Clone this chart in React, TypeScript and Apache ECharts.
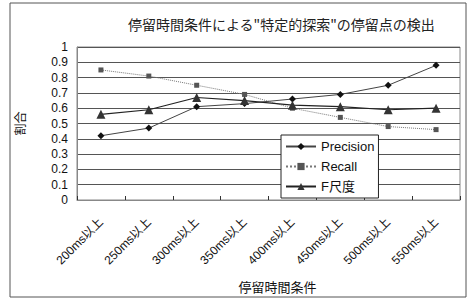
import React, { useEffect, useRef } from "react";
import * as echarts from "echarts";

const categories = ["200ms以上", "250ms以上", "300ms以上", "350ms以上", "400ms以上", "450ms以上", "500ms以上", "550ms以上"];
const precision = [0.42, 0.47, 0.61, 0.63, 0.66, 0.69, 0.75, 0.88];
const recall = [0.85, 0.81, 0.75, 0.69, 0.6, 0.54, 0.48, 0.46];
const fMeasure = [0.56, 0.59, 0.67, 0.65, 0.62, 0.61, 0.59, 0.6];
const seriesNames = ["Precision", "Recall", "F尺度"];

const FONT = "'Liberation Sans', 'Noto Sans CJK JP', sans-serif";

export default function App() {
  const ref = useRef<HTMLDivElement>(null);
  useEffect(() => {
    const chart = echarts.init(ref.current!, null, { renderer: "svg" });
    chart.setOption({
      animation: false,
      backgroundColor: "#fff",
      textStyle: { fontFamily: FONT },
      title: {
        text: '停留時間条件による"特定的探索"の停留点の検出',
        left: 123,
        top: 12,
        textStyle: { fontSize: 14, fontWeight: "normal", color: "#222", fontFamily: "'Noto Sans CJK JP', sans-serif" },
      },
      graphic: [
        {
          type: "rect",
          shape: { x: 10, y: 3, width: 456, height: 294 },
          style: { fill: "none", stroke: "#555", lineWidth: 1 },
          z: 0,
        },
      ],
      legend: {
        orient: "vertical",
        left: 281,
        top: 135,
        data: seriesNames,
        backgroundColor: "#fff",
        borderColor: "#222",
        borderWidth: 1,
        borderRadius: 0,
        padding: [5, 4, 5, 4],
        itemGap: 7,
        itemWidth: 30,
        itemHeight: 9,
        textStyle: { fontSize: 13, color: "#111", fontFamily: FONT },
      },
      grid: { left: 77, top: 47, right: 10, bottom: 106, show: true, borderColor: "#888", borderWidth: 1 },
      xAxis: {
        type: "category",
        data: categories,
        boundaryGap: true,
        name: "停留時間条件",
        nameLocation: "middle",
        nameGap: 80,
        nameTextStyle: { fontSize: 13, color: "#111", padding: [0, 0, 0, 18], fontFamily: "'Noto Sans CJK JP', sans-serif" },
        axisLine: { lineStyle: { color: "#888" } },
        axisTick: { show: true, inside: true, length: 4, lineStyle: { color: "#333" } },
        axisLabel: { rotate: 45, fontSize: 12, color: "#111", margin: 20, interval: 0 },
      },
      yAxis: {
        type: "value",
        min: 0,
        max: 1,
        interval: 0.1,
        name: "割合",
        nameLocation: "middle",
        nameGap: 52,
        nameTextStyle: { fontSize: 12, color: "#111", fontFamily: "'Noto Sans CJK JP', sans-serif" },
        axisLine: { show: true, lineStyle: { color: "#888" } },
        axisTick: { show: false },
        axisLabel: { fontSize: 12, color: "#111", margin: 9, formatter: (v: number) => String(Math.round(v * 10) / 10) },
        splitLine: { show: true, lineStyle: { color: "#555", width: 1 } },
      },
      series: [
        {
          name: seriesNames[0],
          type: "line",
          data: precision,
          symbol: "diamond",
          symbolSize: 7,
          itemStyle: { color: "#111" },
          lineStyle: { color: "#444", width: 1 },
          z: 3,
        },
        {
          name: seriesNames[1],
          type: "line",
          data: recall,
          symbol: "rect",
          symbolSize: 5,
          itemStyle: { color: "#555" },
          lineStyle: { color: "#777", width: 1, type: "dotted" },
          z: 2,
        },
        {
          name: seriesNames[2],
          type: "line",
          data: fMeasure,
          symbol: "triangle",
          symbolSize: 9,
          itemStyle: { color: "#333" },
          lineStyle: { color: "#222", width: 1.2 },
          z: 4,
        },
      ],
    });
    return () => chart.dispose();
  }, []);
  return <div ref={ref} style={{ position: "fixed", left: 0, top: 0, width: 470, height: 306 }} />;
}
